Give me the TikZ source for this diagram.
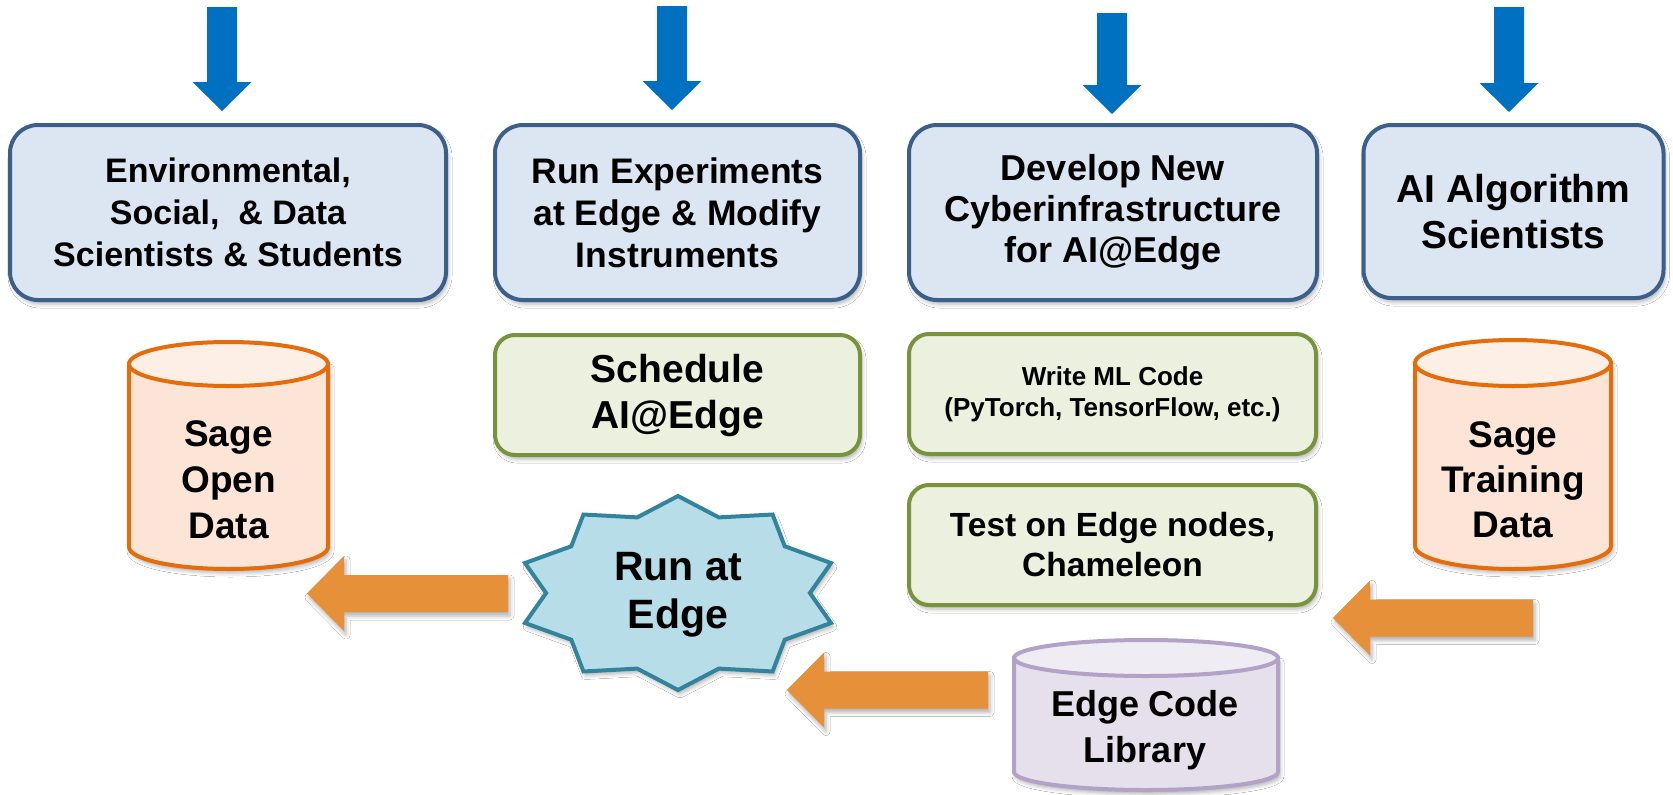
\documentclass[tikz,border=0pt]{standalone}
\usepackage{fontspec}
\setmainfont{Liberation Sans}
\usetikzlibrary{shadows.blur}
\definecolor{bluefill}{HTML}{DCE6F2}
\definecolor{blueline}{HTML}{3A5F8B}
\definecolor{greenfill}{HTML}{EBF1DE}
\definecolor{greenline}{HTML}{77933C}
\definecolor{orbody}{HTML}{FCE4D6}
\definecolor{ortop}{HTML}{FDEFE6}
\definecolor{orline}{HTML}{E46C0A}
\definecolor{pubody}{HTML}{E5E0EC}
\definecolor{putop}{HTML}{EFECF4}
\definecolor{puline}{HTML}{B3A2C7}
\definecolor{starfill}{HTML}{B7DDE8}
\definecolor{starline}{HTML}{31849B}
\definecolor{arrowor}{HTML}{E6913A}
\definecolor{arrowbl}{HTML}{0070C0}
\tikzset{
  shade/.style={blur shadow={shadow xshift=2pt, shadow yshift=-4pt, shadow blur radius=4pt, shadow opacity=30}},
  fsz/.style 2 args={font=\bfseries\fontsize{#1}{#2}\selectfont},
  bluebox/.style={draw=blueline, fill=bluefill, line width=4pt, rounded corners=28pt,
     minimum height=175pt, align=center, shade},
  greenbox/.style={draw=greenline, fill=greenfill, line width=4pt, rounded corners=20pt,
     minimum height=120pt, align=center, shade},
  lbl/.style={align=center, inner sep=0pt},
  orarrow/.style={fill=arrowor, shade},
  blarrow/.style={fill=arrowbl},
}
\newcommand\mycyl[8]{%
  \path[draw=#8, fill=#6, line width=4pt, shade]
    (#1-#2,#3) -- (#1-#2,#4)
    .. controls (#1-#2,#4+0.5523*#5) and (#1-0.5523*#2,#4+#5) .. (#1,#4+#5)
    .. controls (#1+0.5523*#2,#4+#5) and (#1+#2,#4+0.5523*#5) .. (#1+#2,#4)
    -- (#1+#2,#3) -- cycle;
  \path[draw=#8, fill=#7, line width=4pt] (#1,#3) ellipse [x radius=#2, y radius=#5];
}
\newcommand\leftblock[3]{%
  \path[orarrow] (#1,#3) -- (#1+37,#3-37.5) -- (#1+37,#3-18.5) -- (#2,#3-18.5)
    -- (#2,#3+18.5) -- (#1+37,#3+18.5) -- (#1+37,#3+37.5) -- cycle;
}
\newcommand\downblock[3]{%
  \path[blarrow] (#1-15,#2) -- (#1+15,#2) -- (#1+15,#3-29) -- (#1+29.5,#3-29)
    -- (#1,#3) -- (#1-29.5,#3-29) -- (#1-15,#3-29) -- cycle;
}
\begin{document}
\begin{tikzpicture}[x=1pt, y=-1pt]
\useasboundingbox[fill=white] (0,0) rectangle (1673,795);

% blue down arrows
\downblock{222}{7}{111}
\downblock{672}{6}{110}
\downblock{1112}{13}{114}
\downblock{1509}{7}{112}

% top boxes
\node[bluebox, minimum width=436pt, fsz={34}{42}] (b1) at (228,212.5)
  {Environmental,\\Social,\ \ \& Data\\Scientists \& Students};
\node[bluebox, minimum width=365pt, fsz={35.5}{42}] (b2) at (677.5,212.5)
  {Run Experiments\\at Edge \& Modify\\Instruments};
\node[bluebox, minimum width=408pt, fsz={36}{41}] (b3) at (1113,212.5)
  {Develop New\\Cyberinfrastructure\\for AI@Edge};
\node[bluebox, minimum width=300pt, minimum height=173pt, fsz={39}{46}] (b4) at (1513.5,211.5)
  {AI Algorithm\\Scientists};

% green boxes
\node[greenbox, minimum width=365pt, fsz={39}{46}] (sched) at (677.5,395)
  {Schedule\\AI@Edge};
\node[greenbox, minimum width=407pt, fsz={26}{31}] (write) at (1112.5,394)
  {Write ML Code\\(PyTorch, TensorFlow, etc.)};
\node[greenbox, minimum width=407pt, fsz={33.5}{40}] (test) at (1112.5,545)
  {Test on Edge nodes,\\Chameleon};

% cylinders
\mycyl{228.5}{99.5}{364}{547}{22}{orbody}{ortop}{orline}
\node[lbl, fsz={37}{46}] (opendata) at (228.5,480) {Sage\\Open\\Data};
\mycyl{1513}{98}{363}{546}{23}{orbody}{ortop}{orline}
\node[lbl, fsz={37}{45}] (training) at (1513,480) {Sage\\Training\\Data};
\mycyl{1146}{132}{658}{772}{18}{pubody}{putop}{puline}
\node[lbl, fsz={36}{46}] (library) at (1145,730) {Edge Code\\Library};

% star
\path[draw=starline, fill=starfill, line width=4pt, shade]
  (678,496)
  \foreach \k in {1,...,9} {
    -- ({678+131.9*cos(108-36*\k)},{593-79.5*sin(108-36*\k)})
    -- ({678+160.9*cos(90-36*\k)},{593-97*sin(90-36*\k)})
  }
  -- ({678+131.9*cos(108)},{593-79.5*sin(108)}) -- cycle;
\node[lbl, fsz={41}{48}] (run) at (678,595) {Run at\\Edge};

% orange block arrows
\leftblock{307}{508}{593.5}
\leftblock{787}{988}{690}
\leftblock{1333}{1533}{618}
\end{tikzpicture}
\end{document}
